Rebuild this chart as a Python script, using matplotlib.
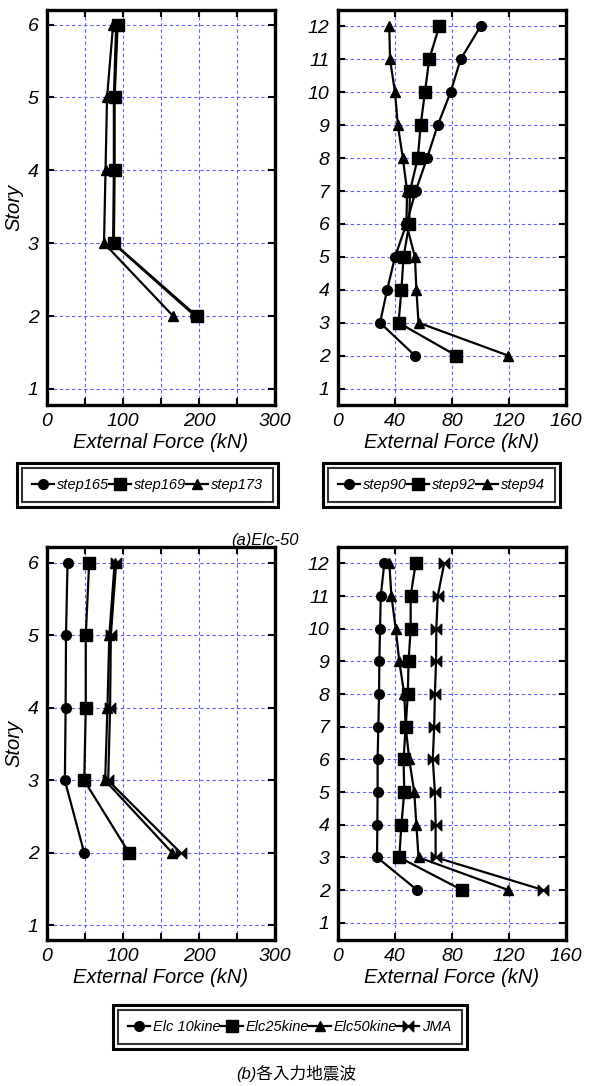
import matplotlib
matplotlib.use("Agg")
import matplotlib.pyplot as plt
from matplotlib.ticker import MultipleLocator, FuncFormatter
from matplotlib.patches import Rectangle
from matplotlib.path import Path

plt.rcParams['font.family'] = ['Liberation Sans', 'Noto Sans CJK JP', 'DejaVu Sans']
plt.rcParams['font.style'] = 'italic'

# --- data ---
story6 = [6, 5, 4, 3, 2]
story12 = [12, 11, 10, 9, 8, 7, 6, 5, 4, 3, 2]

# (a) Elc-50, 6-story
step165 = [91, 88, 88, 87, 195]
step169 = [93, 89, 89, 88, 197]
step173 = [87, 79, 77, 75, 166]
labels_a6 = ['step165', 'step169', 'step173']

# (a) Elc-50, 12-story
step90 = [100, 86, 79, 70, 62.5, 54.5, 48, 40, 34.5, 29.5, 54]
step92 = [71, 64, 61, 58, 56, 50.5, 50, 46, 44.5, 42.5, 83]
step94 = [36, 36.5, 40, 42, 45.5, 48.5, 48, 54, 55, 56.5, 119.5]
labels_a12 = ['step90', 'step92', 'step94']

# (b) various input waves, 6-story
elc10_6 = [27, 25, 24.5, 23.5, 49]
elc25_6 = [55.5, 51, 51, 49, 108]
elc50_6 = [89, 82, 79.5, 76.5, 165]
jma_6 = [91, 84, 83, 80.5, 176]

# (b) various input waves, 12-story
elc10_12 = [32.5, 30, 29.5, 29, 28.8, 28.3, 27.8, 27.8, 27.6, 27.4, 55.5]
elc25_12 = [54.5, 51, 51, 49.5, 49, 47.5, 46, 46.5, 44.5, 43, 87]
elc50_12 = [36, 37.5, 40.5, 43, 46.5, 47.5, 50, 53.5, 55, 56.5, 119.5]
jma_12 = [74.5, 70, 69, 68.8, 68, 67.5, 66.5, 68, 68.5, 68.5, 144]
labels_b = ['Elc 10kine', 'Elc25kine', 'Elc50kine', 'JMA']

bowtie = Path([(-1, 1), (0, 0), (1, 1), (1, -1), (0, 0), (-1, -1), (-1, 1)],
              [Path.MOVETO] + [Path.LINETO] * 5 + [Path.CLOSEPOLY])
markers = ['o', 's', '^', bowtie]
msizes = [7, 8.5, 7.5, 7.5]

fig = plt.figure(figsize=(6.0, 10.86), dpi=100)


def setup(ax, xmax, xstep, xlabel_step, ymin, ymax, ystory):
    ax.set_xlim(0, xmax)
    ax.set_ylim(ymin, ymax)
    ax.xaxis.set_major_locator(MultipleLocator(xstep))
    ax.xaxis.set_major_formatter(FuncFormatter(
        lambda v, p: '%d' % v if abs(v / xlabel_step - round(v / xlabel_step)) < 1e-6 else ''))
    ax.yaxis.set_major_locator(MultipleLocator(1))
    ax.grid(True, color='#6060ff', linestyle=(0, (3, 2.5)), linewidth=0.8)
    ax.set_axisbelow(True)
    ax.tick_params(direction='in', top=True, right=True, length=5, width=1.5,
                   labelsize=14, pad=6)
    for s in ax.spines.values():
        s.set_linewidth(2.4)
    ax.set_xlabel('External Force (kN)', fontsize=14.5, labelpad=2)
    if ystory:
        ax.set_ylabel('Story', fontsize=14.5, labelpad=3)


def draw(ax, stories, series):
    hs = []
    for i, xs in enumerate(series):
        h, = ax.plot(xs, stories, color='black', lw=1.6, marker=markers[i],
                     ms=msizes[i], mfc='black', mec='black', clip_on=False)
        hs.append(h)
    return hs


def double_box(leg, gap=5):
    fig.canvas.draw()
    bb = leg.get_window_extent()
    inv = fig.transFigure.inverted()
    (x0, y0), (x1, y1) = inv.transform([(bb.x0 - gap, bb.y0 - gap), (bb.x1 + gap, bb.y1 + gap)])
    fig.patches.append(Rectangle((x0, y0), x1 - x0, y1 - y0, fill=False, lw=2.2,
                                 edgecolor='black', transform=fig.transFigure, figure=fig))


def add_legend(handles, labels, cx, cy, fs=10.5):
    leg = fig.legend(handles, labels, loc='center', bbox_to_anchor=(cx, cy), ncol=len(labels),
                     fontsize=fs, frameon=True, fancybox=False, edgecolor='black',
                     handlelength=1.5, handletextpad=0.2, columnspacing=0.0,
                     borderpad=0.7, borderaxespad=0)
    leg.get_frame().set_linewidth(1.5)
    return leg


W, H = 600.0, 1086.0
ax1 = fig.add_axes([47 / W, 1 - 405 / H, 228 / W, 395 / H])
ax2 = fig.add_axes([338 / W, 1 - 405 / H, 228 / W, 395 / H])
ax3 = fig.add_axes([47 / W, 1 - 940 / H, 228 / W, 393 / H])
ax4 = fig.add_axes([338 / W, 1 - 940 / H, 228 / W, 393 / H])

setup(ax1, 300, 50, 100, 0.78, 6.2, True)
setup(ax2, 160, 40, 40, 0.5, 12.5, False)
setup(ax3, 300, 50, 100, 0.8, 6.22, True)
setup(ax4, 160, 40, 40, 0.47, 12.5, False)

h1 = draw(ax1, story6, [step165, step169, step173])
h2 = draw(ax2, story12, [step90, step92, step94])
h3 = draw(ax3, story6, [elc10_6, elc25_6, elc50_6, jma_6])
draw(ax4, story12, [elc10_12, elc25_12, elc50_12, jma_12])

legs = [add_legend(h1, labels_a6, 147.5 / W, 1 - 485 / H),
        add_legend(h2, labels_a12, 441.5 / W, 1 - 485 / H),
        add_legend(h3, labels_b, 290 / W, 1 - 1027 / H)]

fig.text(265 / W, 1 - 540 / H, '(a)Elc-50', ha='center', va='center', fontsize=12)
fig.text(296 / W, 1 - 1074 / H, '(b)各入力地震波', ha='center', va='center', fontsize=12)

for lg in legs:
    double_box(lg)

fig.savefig('out.png', dpi=100)
